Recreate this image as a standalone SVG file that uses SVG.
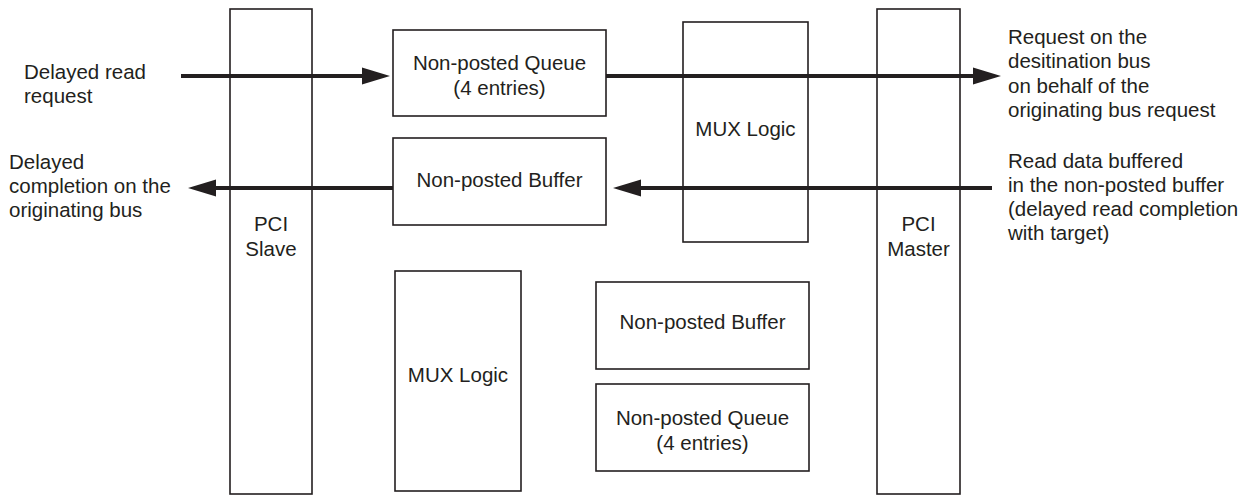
<svg xmlns="http://www.w3.org/2000/svg" width="1252" height="495" viewBox="0 0 1252 495">
<style>
.box{fill:#fff;stroke:#231f20;stroke-width:1.6}
text{font-family:"Liberation Sans",Arial,sans-serif;font-size:20.5px;fill:#231f20}
.c{text-anchor:middle}
.wire{stroke:#231f20;stroke-width:4;fill:none;marker-end:url(#ah)}
</style>
<defs>
<marker id="ah" markerUnits="userSpaceOnUse" markerWidth="28" markerHeight="18" refX="8" refY="8.5" orient="auto" viewBox="0 0 28 17">
<path d="M0,0 L28,8.5 L0,17 z" fill="#231f20"/>
</marker>
</defs>
<rect width="1252" height="495" fill="#fff"/>
<g id="pci-slave"><rect class="box" x="230" y="9" width="82" height="485"/><text class="c" x="271" y="231">PCI</text><text class="c" x="271" y="256">Slave</text></g>
<g id="pci-master"><rect class="box" x="877" y="9" width="83" height="485"/><text class="c" x="918.5" y="231">PCI</text><text class="c" x="918.5" y="256">Master</text></g>
<g id="np-queue-top"><rect class="box" x="393" y="30" width="213" height="86"/><text class="c" x="499.5" y="70">Non-posted Queue</text><text class="c" x="499.5" y="95">(4 entries)</text></g>
<g id="np-buffer-top"><rect class="box" x="393" y="138" width="213" height="87"/><text class="c" x="499.5" y="187">Non-posted Buffer</text></g>
<g id="mux-top"><rect class="box" x="683" y="22" width="125" height="220"/><text class="c" x="745.5" y="136">MUX Logic</text></g>
<g id="mux-bottom"><rect class="box" x="395" y="271" width="126" height="220"/><text class="c" x="458" y="382">MUX Logic</text></g>
<g id="np-buffer-bottom"><rect class="box" x="596" y="282" width="213" height="87"/><text class="c" x="702.5" y="329">Non-posted Buffer</text></g>
<g id="np-queue-bottom"><rect class="box" x="596" y="384" width="213" height="87"/><text class="c" x="702.5" y="425">Non-posted Queue</text><text class="c" x="702.5" y="450">(4 entries)</text></g>
<g id="labels">
<text x="24" y="79">Delayed read</text><text x="24" y="103">request</text>
<text x="9" y="169">Delayed</text><text x="9" y="193">completion on the</text><text x="9" y="217">originating bus</text>
<text x="1008" y="44">Request on the</text><text x="1008" y="68">desitination bus</text><text x="1008" y="93">on behalf of the</text><text x="1008" y="117">originating bus request</text>
<text x="1008" y="168">Read data buffered</text><text x="1008" y="192">in the non-posted buffer</text><text x="1008" y="216">(delayed read completion</text><text x="1008" y="240">with target)</text>
</g>
<g id="connectors">
<line class="wire" x1="181" y1="76" x2="370" y2="76"/>
<line class="wire" x1="606" y1="76" x2="981" y2="76"/>
<line class="wire" x1="992" y1="188" x2="633" y2="188"/>
<line class="wire" x1="393" y1="188" x2="208" y2="188"/>
</g>
</svg>
